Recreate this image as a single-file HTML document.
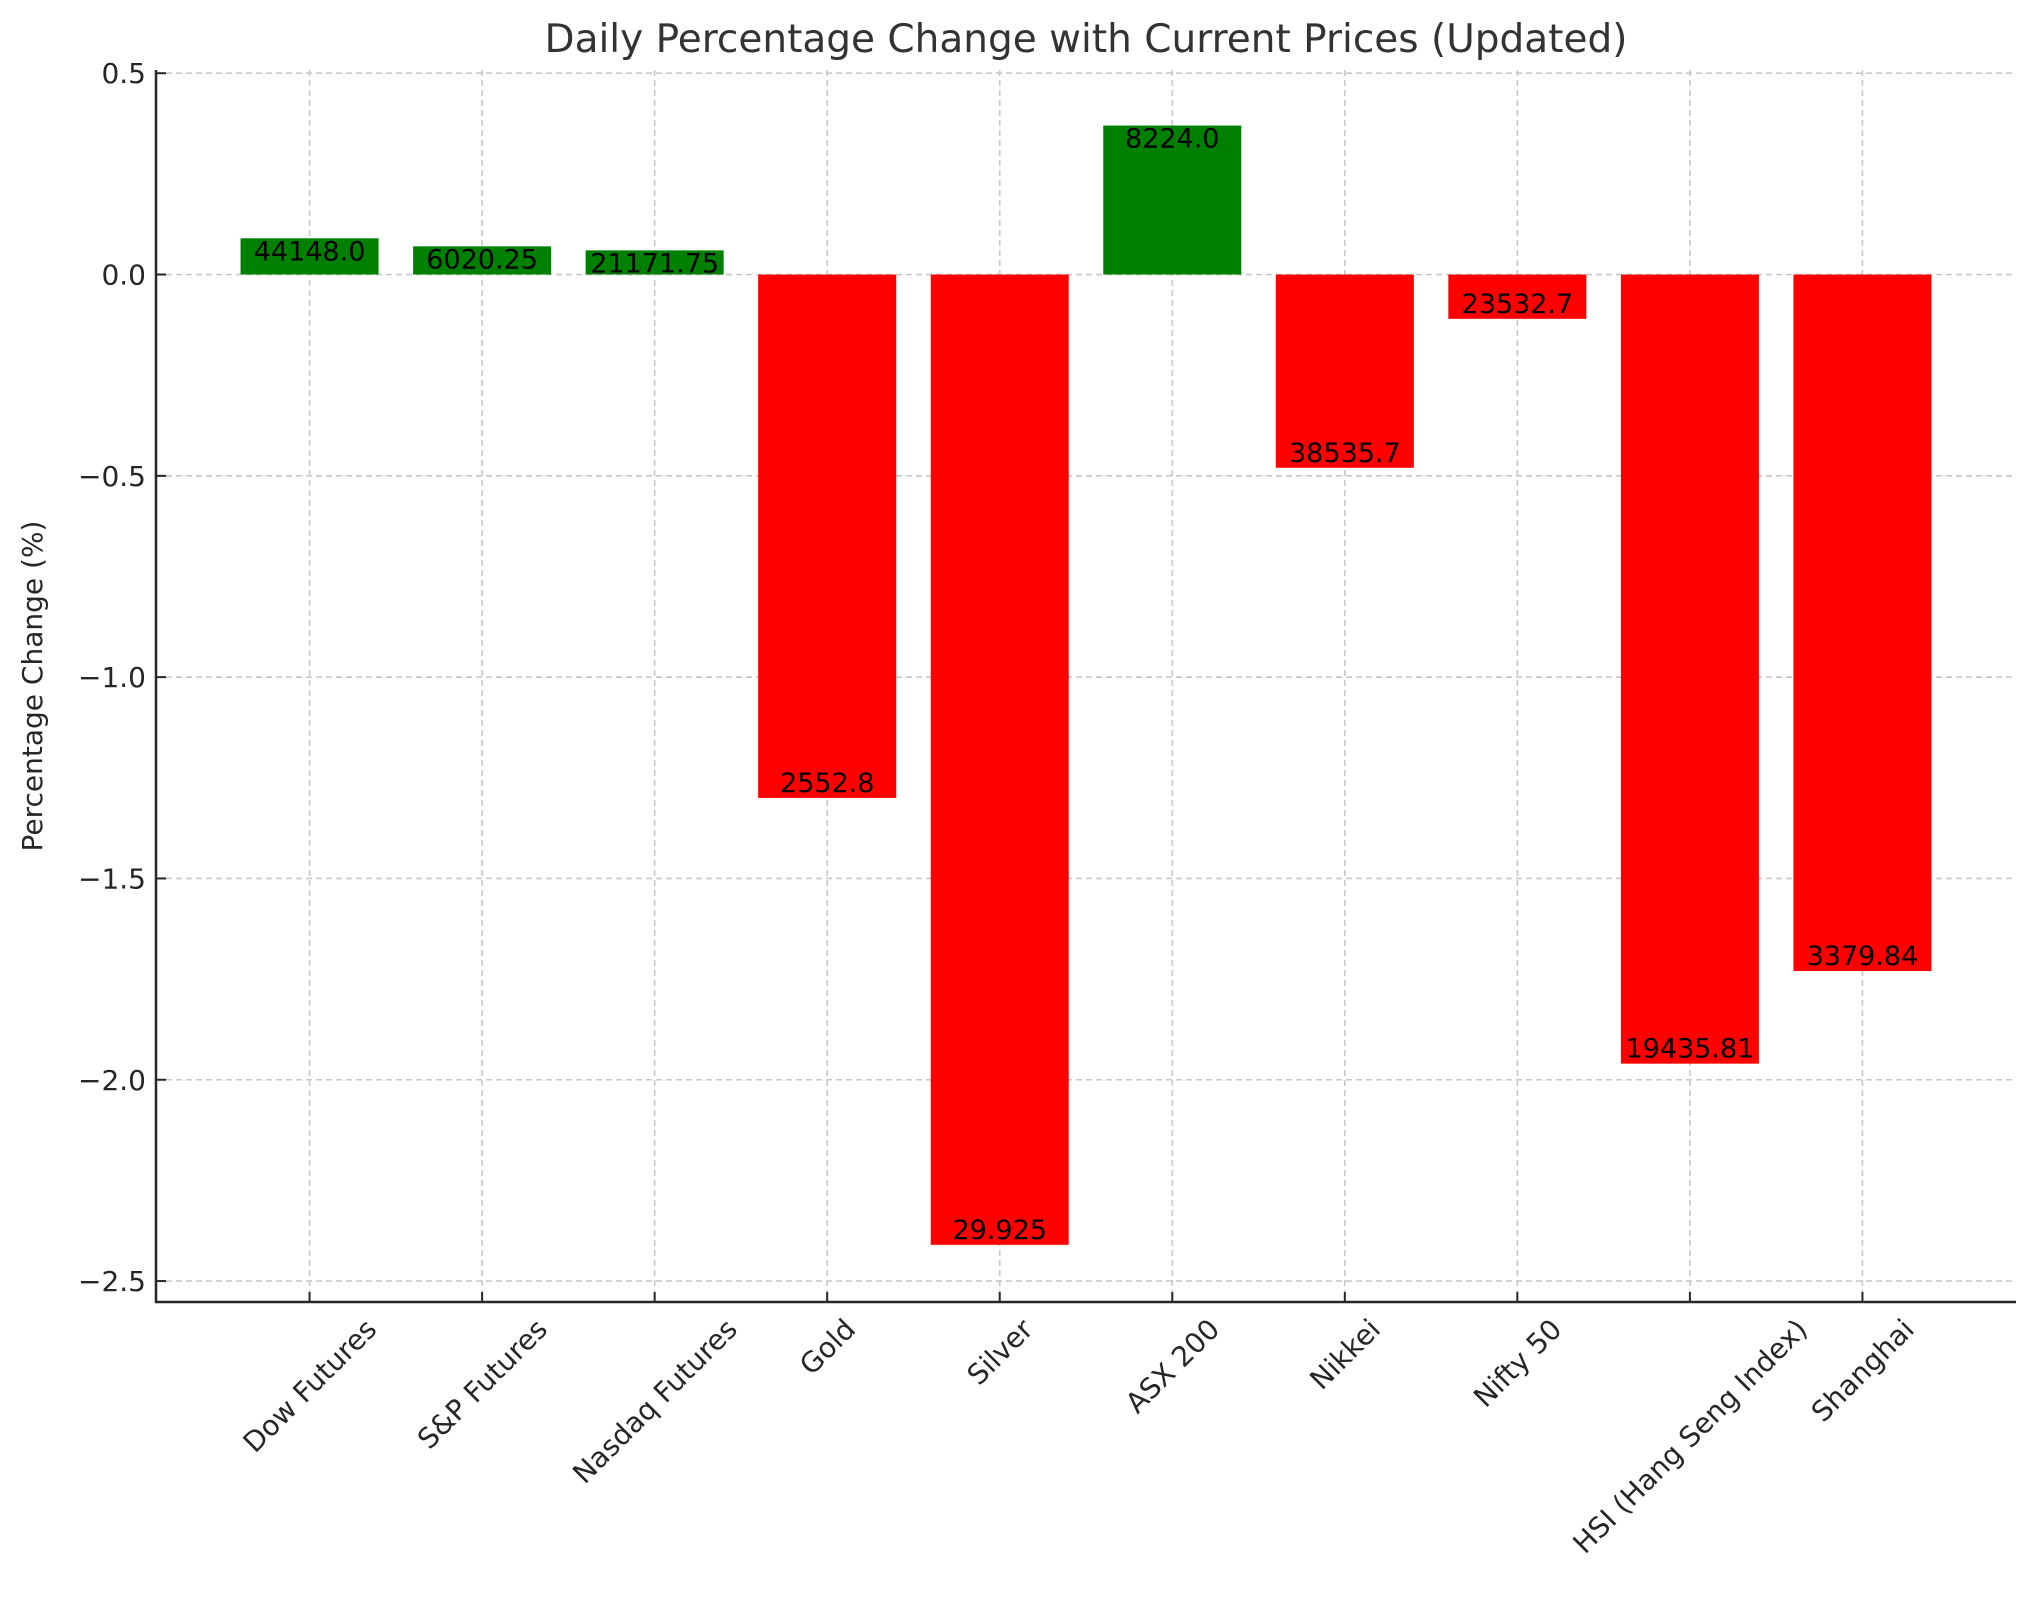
<!DOCTYPE html>
<html><head><meta charset="utf-8"><style>
html,body{margin:0;padding:0;background:#fff;}
svg{display:block;font-family:"DejaVu Sans","Liberation Sans",sans-serif;}
</style></head><body>
<svg id="chart" width="2035" height="1622" viewBox="0 0 2035 1622" xmlns="http://www.w3.org/2000/svg">
<text x="1086" y="52" text-anchor="middle" font-size="39" fill="#333">Daily Percentage Change with Current Prices (Updated)</text>
<text transform="translate(42,686) rotate(-90)" text-anchor="middle" font-size="28" fill="#262626">Percentage Change (%)</text>
<g id="grid"></g>
<g id="bars"></g>
<g id="labels"></g>
<g id="axes"></g>
</svg>
<script>
const categories = ["Dow Futures","S&P Futures","Nasdaq Futures","Gold","Silver","ASX 200","Nikkei","Nifty 50","HSI (Hang Seng Index)","Shanghai"];
const changes = [0.09,0.07,0.06,-1.30,-2.41,0.37,-0.48,-0.11,-1.96,-1.73];
const prices = ["44148.0","6020.25","21171.75","2552.8","29.925","8224.0","38535.7","23532.7","19435.81","3379.84"];
const yTicks = [0.5,0.0,-0.5,-1.0,-1.5,-2.0,-2.5];
const yTickLabels = ["0.5","0.0","\u22120.5","\u22121.0","\u22121.5","\u22122.0","\u22122.5"];

const NS="http://www.w3.org/2000/svg";
const L=156,R=2016,T=70,B=1302;
const xMin=-0.89,xMax=categories.length-1+0.89;
const yMin=-2.552,yMax=0.508;
const xs=i=>L+(i-xMin)/(xMax-xMin)*(R-L);
const ys=v=>B-(v-yMin)/(yMax-yMin)*(B-T);
const bw=0.8*(R-L)/(xMax-xMin);
function mk(tag,attrs,parent){const e=document.createElementNS(NS,tag);for(const k in attrs)e.setAttribute(k,attrs[k]);parent.appendChild(e);return e;}
const grid=document.getElementById('grid'),bars=document.getElementById('bars'),labels=document.getElementById('labels'),axes=document.getElementById('axes');

yTicks.forEach((t,i)=>{
  const g=mk('line',{x1:L,x2:R,y1:ys(t),y2:ys(t),stroke:'#c8c8c8','stroke-width':1.6,'stroke-dasharray':'6,4'},grid);
  
  
  const tk=mk('line',{x1:L,x2:L+10,y1:ys(t),y2:ys(t),stroke:'#262626','stroke-width':2},axes);
  
  
  const tl=mk('text',{x:L-10,y:ys(t)+10,'text-anchor':'end','font-size':28,fill:'#262626'},axes);
  tl.textContent=yTickLabels[i];
  
  
});
categories.forEach((c,i)=>{
  const x=xs(i);
  const g=mk('line',{x1:x,x2:x,y1:T,y2:B,stroke:'#c8c8c8','stroke-width':1.6,'stroke-dasharray':'6,4'},grid);
  
  
  const v=changes[i];
  const y0=ys(0),y1=ys(v);
  const r=mk('rect',{x:x-bw/2,y:Math.min(y0,y1),width:bw,height:Math.abs(y1-y0),fill:v>=0?'#008000':'#ff0000'},bars);
  
  
  const lt=mk('text',{x:x,y:v>=0?y1+22:y1-6,'text-anchor':'middle','font-size':27,fill:'#000'},labels);
  lt.textContent=prices[i];
  
  
  const tk=mk('line',{x1:x,x2:x,y1:B,y2:B-10,stroke:'#262626','stroke-width':2},axes);
  
  
  const xl=mk('text',{'text-anchor':'middle','font-size':28,fill:'#262626'},axes);
  xl.textContent=c;
  
  
  const len=xl.getComputedTextLength(),h=28;
  const half=(len+h)/(2*Math.SQRT2);
  const cy=B+12+half;
  xl.setAttribute('transform','translate('+x+','+cy+') rotate(-45)');
  xl.setAttribute('y',10);
});
const sl=mk('line',{x1:L,x2:L,y1:T,y2:B+1,stroke:'#262626','stroke-width':2.5},axes);


const sb=mk('line',{x1:L-1,x2:R,y1:B,y2:B,stroke:'#262626','stroke-width':2.5},axes);


</script>
</body></html>
